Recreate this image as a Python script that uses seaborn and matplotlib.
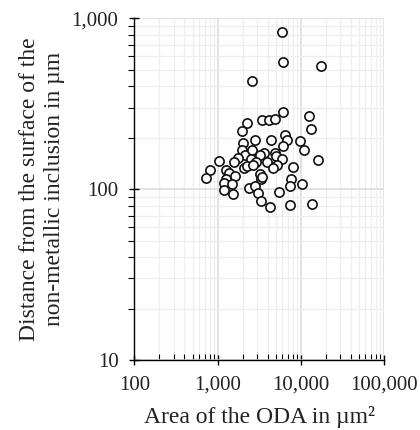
import matplotlib
matplotlib.use("Agg")
import matplotlib.pyplot as plt
import matplotlib.ticker as mticker
import seaborn as sns
import pandas as pd

area = [5875, 6095, 17450, 2563, 6140, 12510, 13330, 3404, 4102, 4922,
        2233, 1941, 6442, 6867, 2786, 4335, 2032, 9750, 10810, 6140,
        1960, 2128, 2606, 3570, 3222, 4842, 4976, 5875, 1770, 2493,
        1036, 16360, 1570, 2884, 3881, 5117, 4660, 8035, 2054, 2269,
        2680, 808, 1259, 1356, 1614, 3222, 730, 3285, 3378, 7603,
        1248, 1181, 1486, 10310, 7459, 2399, 2831, 1200, 1514, 3048,
        5500, 3311, 4217, 7396, 13590]
distance = [837, 557, 528, 433, 285, 270, 226, 255, 255, 257,
            243, 218, 208, 195, 195, 193, 186, 191, 170, 178,
            170, 159, 170, 164, 159, 163, 157, 151, 153, 151,
            147, 149, 144, 144, 144, 139, 133, 135.5, 133, 136,
            138, 129, 129, 124, 120, 123, 117, 115, 118, 114,
            115, 108, 107, 107, 105, 101.6, 105, 98.4, 94, 95,
            95.8, 85.6, 78.7, 80.4, 82]

x_ticks = [100, 1000, 10000, 100000]
y_ticks = [10, 100, 1000]
x_label = "Area of the ODA in µm²"
y_label = "Distance from the surface of the\nnon-metallic inclusion in µm"

df = pd.DataFrame({"area": area, "distance": distance})

sns.set_theme(style="white")
plt.rcParams["font.family"] = ["Liberation Serif", "DejaVu Serif"]

fig = plt.figure(figsize=(4.2, 4.3), dpi=100)
ax = fig.add_axes([0.320, 0.163, 0.594, 0.794])

sns.scatterplot(data=df, x="area", y="distance", ax=ax, marker="o",
                s=44, facecolor="white", edgecolor="#111111", linewidth=1.2,
                zorder=3)

ax.set_xscale("log")
ax.set_yscale("log")
ax.set_xlim(100, 100000)
ax.set_ylim(10, 1000)
ax.xaxis.set_major_locator(mticker.FixedLocator(x_ticks))
ax.yaxis.set_major_locator(mticker.FixedLocator(y_ticks))
fmt = mticker.FuncFormatter(lambda v, p: f"{v:,.0f}")
ax.xaxis.set_major_formatter(fmt)
ax.yaxis.set_major_formatter(fmt)
ax.xaxis.set_minor_locator(mticker.LogLocator(base=10, subs=range(2, 10), numticks=100))
ax.yaxis.set_minor_locator(mticker.LogLocator(base=10, subs=range(2, 10), numticks=100))
ax.xaxis.set_minor_formatter(mticker.NullFormatter())
ax.yaxis.set_minor_formatter(mticker.NullFormatter())

ax.grid(True, which="major", color="#dddddd", linewidth=1.2, zorder=0)
ax.grid(True, which="minor", color="#eeeeee", linewidth=0.9, zorder=0)
ax.set_axisbelow(True)

for s in ["top", "right"]:
    ax.spines[s].set_visible(False)
for s in ["left", "bottom"]:
    ax.spines[s].set_color("black")
    ax.spines[s].set_linewidth(1.0)

ax.tick_params(axis="both", which="major", direction="inout", length=7,
               width=1.0, color="black", labelsize=15, labelcolor="#222222",
               bottom=True, left=True)
ax.tick_params(axis="x", which="major", pad=8)
ax.tick_params(axis="y", which="major", pad=8)
ax.tick_params(axis="x", which="minor", direction="in", length=4, width=0.8,
               color="black", bottom=True)
ax.tick_params(axis="y", which="minor", direction="out", length=4, width=0.8,
               color="black", left=True)

ax.set_xlabel(x_label, fontsize=17, color="#222222", labelpad=8)
ax.set_ylabel(y_label, fontsize=17, color="#222222", labelpad=5,
              linespacing=1.25)

fig.savefig("out.png", dpi=100)
